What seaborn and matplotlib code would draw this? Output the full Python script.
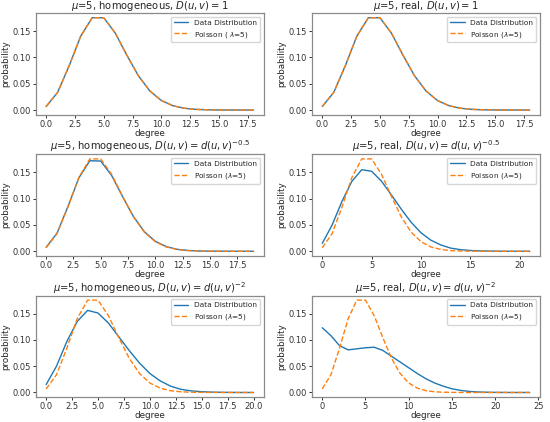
import matplotlib
matplotlib.use("Agg")
import matplotlib.pyplot as plt
import seaborn as sns
import pandas as pd

# Poisson(5) probabilities, degree 0..24
poisson = [0.0067, 0.0337, 0.0842, 0.1404, 0.1755, 0.1755, 0.1462, 0.1044,
           0.0653, 0.0363, 0.0181, 0.0082, 0.0034, 0.0013, 0.0005, 0.0002,
           0.0001, 0.0000, 0.0000, 0.0000, 0.0000, 0.0000, 0.0000, 0.0000, 0.0000]

# observed degree distributions
homog_1 = [0.0067, 0.0337, 0.0842, 0.1404, 0.1755, 0.1755, 0.1462, 0.1044,
           0.0653, 0.0363, 0.0181, 0.0082, 0.0034, 0.0013, 0.0005, 0.0002,
           0.0001, 0.0000, 0.0000]
real_1 = [0.0067, 0.0337, 0.0842, 0.1404, 0.1755, 0.1755, 0.1462, 0.1044,
          0.0653, 0.0363, 0.0181, 0.0082, 0.0034, 0.0013, 0.0005, 0.0002,
          0.0001, 0.0000, 0.0000]
homog_05 = [0.0075, 0.0345, 0.0850, 0.1395, 0.1720, 0.1715, 0.1440, 0.1040,
            0.0660, 0.0370, 0.0190, 0.0088, 0.0037, 0.0015, 0.0006, 0.0002,
            0.0001, 0.0000, 0.0000, 0.0000]
real_05 = [0.015, 0.050, 0.095, 0.133, 0.155, 0.152, 0.133, 0.107, 0.080,
           0.055, 0.035, 0.021, 0.012, 0.006, 0.003, 0.0015, 0.0007, 0.0003,
           0.0001, 0.0000, 0.0000, 0.0000]
homog_2 = [0.015, 0.050, 0.097, 0.135, 0.156, 0.151, 0.132, 0.106, 0.080,
           0.056, 0.036, 0.022, 0.012, 0.006, 0.003, 0.0015, 0.0007, 0.0003,
           0.0001, 0.0000, 0.0000]
real_2 = [0.123, 0.108, 0.089, 0.081, 0.083, 0.085, 0.086, 0.080, 0.069,
          0.058, 0.047, 0.036, 0.026, 0.018, 0.012, 0.007, 0.004, 0.002,
          0.001, 0.0005, 0.0002, 0.0001, 0.0000, 0.0000, 0.0000]

titles = [r"$\mu$=5, homogeneous, $D(u,v)=1$",
          r"$\mu$=5, real, $D(u,v)=1$",
          r"$\mu$=5, homogeneous, $D(u,v)=d(u,v)^{-0.5}$",
          r"$\mu$=5, real, $D(u,v)=d(u,v)^{-0.5}$",
          r"$\mu$=5, homogeneous, $D(u,v)=d(u,v)^{-2}$",
          r"$\mu$=5, real, $D(u,v)=d(u,v)^{-2}$"]
series = [homog_1, real_1, homog_05, real_05, homog_2, real_2]
poisson_labels = [r"Poisson ( $\lambda$=5)"] + [r"Poisson ($\lambda$=5)"] * 5

ticks_25 = [0, 2.5, 5, 7.5, 10, 12.5, 15, 17.5]
ticks_25_20 = [0, 2.5, 5, 7.5, 10, 12.5, 15, 17.5, 20]
xticks = [ticks_25, ticks_25, ticks_25, [0, 5, 10, 15, 20],
          ticks_25_20, [0, 5, 10, 15, 20, 25]]
yticks = [0.0, 0.05, 0.10, 0.15]

sns.set_style("ticks")
plt.rcParams.update({
    "axes.edgecolor": "#8a8a8a",
    "xtick.color": "#333333",
    "ytick.color": "#333333",
    "xtick.labelsize": 6,
    "ytick.labelsize": 6,
    "axes.labelsize": 6.3,
    "axes.titlesize": 7.2,
    "legend.fontsize": 5.3,
    "lines.linewidth": 1.0,
})

fig, axes = plt.subplots(3, 2, figsize=(5.5, 4.22), dpi=100)
for i, ax in enumerate(axes.flat):
    data = series[i]
    n = len(data)
    df = pd.DataFrame({"degree": range(n), "data": data, "poisson": poisson[:n]})
    sns.lineplot(data=df, x="degree", y="data", ax=ax, color="#1f77b4",
                 label="Data Distribution")
    sns.lineplot(data=df, x="degree", y="poisson", ax=ax, color="#ff7f0e",
                 linestyle="--", label=poisson_labels[i])
    ax.set_title(titles[i], pad=1)
    ax.set_xlabel("degree", labelpad=0)
    ax.set_ylabel("probability", labelpad=1.5)
    ax.set_xticks(xticks[i])
    if i in (3, 5):
        ax.set_xticklabels([str(t) for t in xticks[i]])
    else:
        ax.set_xticklabels([f"{t:.1f}" for t in xticks[i]])
    ax.set_yticks(yticks)
    ax.set_yticklabels([f"{t:.2f}" for t in yticks])
    ax.tick_params(length=2.5, pad=1, width=0.7)
    for s in ax.spines.values():
        s.set_linewidth(0.9)
    ax.legend(loc="upper right", frameon=True, borderpad=0.4)

fig.subplots_adjust(left=0.065, right=0.982, top=0.969, bottom=0.059,
                    wspace=0.21, hspace=0.39)
fig.savefig("out.png")
